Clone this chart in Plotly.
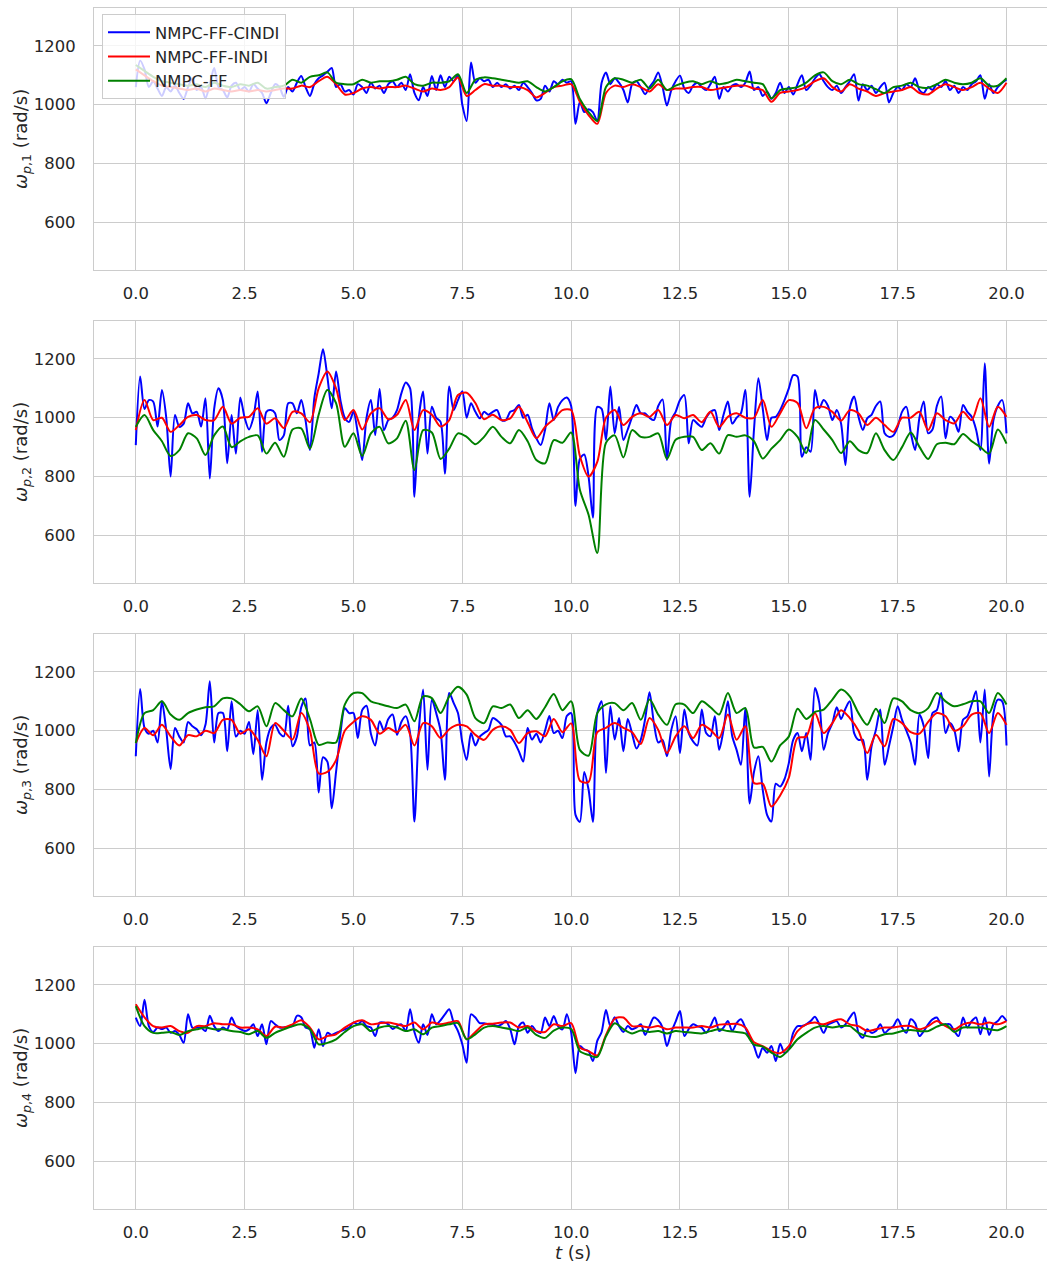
import numpy as np
import plotly.graph_objects as go

# Time grids: the CINDI signal is sampled every 0.1 s, the others every 0.2 s
t_fine = np.round(np.arange(201) * 0.1, 1)
t_coarse = np.round(np.arange(101) * 0.2, 1)

# ---------------- rotor 1 ----------------
w1_cindi = [
    1060, 1150, 1120, 1060, 1080, 1055, 1030, 1060, 1045, 1065, 1040,
    1020, 1060, 1090, 1050, 1060, 1022, 1070, 1125, 1060, 1050,
    1025, 1065, 1075, 1050, 1060, 1045, 1070, 1055, 1040, 1005,
    1040, 1070, 1060, 1027, 1060, 1045, 1075, 1098, 1060, 1030,
    1070, 1090, 1100, 1112, 1125, 1060, 1070, 1045, 1050, 1035,
    1070, 1060, 1040, 1075, 1055, 1065, 1040, 1070, 1080, 1060,
    1075, 1050, 1104, 1040, 1015, 1060, 1030, 1098, 1050, 1100,
    1060, 1095, 1080, 1100, 1000, 945, 1144, 1075, 1090, 1080,
    1085, 1060, 1075, 1060, 1070, 1055, 1065, 1050, 1075, 1060,
    1040, 1015, 1020, 1065, 1045, 1080, 1070, 1085, 1075, 1080,
    935, 1010, 975, 985, 975, 945, 1075, 1110, 1070, 1090,
    1075, 1050, 1008, 1070, 1080, 1060, 1036, 1060, 1080, 1110,
    1060, 997, 1050, 1080, 1099, 1055, 1040, 1065, 1075, 1060,
    1050, 1070, 1095, 1020, 1060, 1045, 1065, 1070, 1060, 1075,
    1113, 1050, 1060, 1030, 1045, 1020, 1040, 1075, 1040, 1060,
    1035, 1070, 1100, 1050, 1065, 1090, 1104, 1080, 1060, 1050,
    1065, 1040, 1060, 1080, 1104, 1014, 1070, 1050, 1065, 1040,
    1060, 1075, 1008, 1040, 1060, 1050, 1070, 1060, 1090, 1050,
    1040, 1060, 1050, 1070, 1060, 1080, 1050, 1065, 1040, 1060,
    1050, 1070, 1080, 1100, 1020, 1070, 1040, 1060, 1075, 1085,
]
w1_indi = [
    1120, 1100, 1080, 1065, 1060, 1055, 1050, 1055, 1045, 1055,
    1050, 1045, 1050, 1045, 1050, 1045, 1050, 1055, 1055, 1065,
    1060, 1080, 1095, 1070, 1035, 1040, 1055, 1060, 1055, 1060,
    1060, 1065, 1055, 1045, 1055, 1050, 1060, 1093, 1030, 1050,
    1070, 1065, 1065, 1060, 1060, 1050, 1025, 1040, 1060, 1065,
    1070, 1010, 965, 935, 1040, 1065, 1060, 1070, 1060, 1045,
    1070, 1050, 1055, 1055, 1060, 1060, 1050, 1055, 1060, 1065,
    1065, 1055, 1050, 1010, 1040, 1045, 1050, 1060, 1080, 1090,
    1060, 1045, 1070, 1055, 1045, 1030, 1040, 1045, 1050, 1060,
    1040, 1035, 1055, 1070, 1060, 1050, 1060, 1075, 1055, 1040,
    1075,
]
w1_ff = [
    1135, 1115, 1095, 1080, 1075, 1070, 1065, 1070, 1060, 1075,
    1065, 1060, 1070, 1065, 1075, 1055, 1060, 1065, 1085, 1075,
    1095, 1100, 1110, 1075, 1070, 1070, 1085, 1075, 1080, 1080,
    1085, 1095, 1070, 1065, 1075, 1075, 1080, 1104, 1040, 1085,
    1093, 1090, 1085, 1080, 1075, 1080, 1060, 1045, 1060, 1080,
    1087, 1020, 975, 945, 1060, 1090, 1085, 1075, 1085, 1055,
    1085, 1050, 1065, 1075, 1080, 1070, 1080, 1070, 1075, 1085,
    1080, 1075, 1070, 1022, 1050, 1055, 1060, 1075, 1100, 1110,
    1080, 1070, 1085, 1070, 1065, 1053, 1040, 1060, 1065, 1075,
    1060, 1058, 1070, 1085, 1075, 1070, 1075, 1090, 1065, 1065,
    1090,
]

# ---------------- rotor 2 ----------------
w2_cindi = [
    907, 1140, 1030, 1060, 1055, 970, 1094, 1000, 800, 1009, 969,
    980, 1049, 1015, 1020, 970, 1066, 793, 1030, 1100, 1060,
    845, 1009, 878, 1069, 1000, 960, 1000, 1089, 884, 1020,
    1026, 1015, 924, 940, 1049, 1049, 1015, 1060, 990, 890,
    1066, 1150, 1233, 1140, 1032, 1157, 1060, 1000, 986, 1020,
    947, 856, 1000, 1060, 941, 1098, 958, 992, 1000, 1026,
    1083, 1120, 1100, 731, 1000, 1089, 878, 1037, 1000, 986,
    810, 1106, 1026, 1060, 1090, 1000, 1049, 1020, 998, 1020,
    1010, 1020, 1026, 992, 992, 1020, 1026, 1043, 1000, 1010,
    964, 930, 907, 958, 1049, 992, 1037, 1060, 1069, 1040,
    700, 860, 875, 800, 660, 1037, 1030, 924, 1106, 947,
    1037, 924, 960, 1003, 1043, 1015, 1015, 1000, 992, 1040,
    1062, 856, 992, 1020, 1060, 1077, 913, 992, 980, 969,
    1000, 1020, 1026, 958, 1010, 1055, 980, 1000, 1015, 1094,
    731, 960, 1134, 1032, 924, 1000, 1003, 1026, 1060, 1100,
    1145, 1140, 867, 900, 884, 1094, 1032, 1060, 1040, 992,
    1026, 980, 839, 1032, 1072, 1003, 958, 998, 1010, 1040,
    1055, 947, 935, 940, 969, 1020, 1037, 950, 890, 1000,
    1055, 947, 960, 1040, 1072, 930, 1003, 990, 952, 1043,
    1020, 1003, 960, 890, 1185, 844, 992, 1040, 1060, 947,
]
w2_indi = [
    958, 1060, 992, 1000, 952, 975, 1003, 1009, 992, 992,
    1037, 980, 1000, 1003, 1032, 980, 998, 965, 1020, 1015,
    985, 1100, 1157, 1100, 992, 1026, 960, 1015, 1032, 995,
    1010, 1060, 958, 1026, 1010, 970, 992, 1077, 1085, 1050,
    995, 1010, 992, 998, 1037, 985, 930, 969, 995, 1026,
    1026, 870, 800, 850, 1000, 1026, 975, 1003, 1015, 1003,
    1026, 975, 1009, 998, 1009, 985, 1020, 969, 1003, 1015,
    1000, 1000, 1060, 969, 1015, 1060, 1050, 964, 1032, 1037,
    1020, 990, 1026, 1015, 975, 1000, 975, 952, 1000, 1000,
    1020, 958, 1015, 992, 981, 1020, 992, 1066, 969, 1037,
    1003,
]
w2_ff = [
    969, 1009, 958, 920, 870, 890, 947, 930, 873, 940,
    970, 900, 920, 935, 940, 878, 915, 867, 960, 964,
    895, 1010, 1094, 1050, 901, 947, 870, 947, 969, 913,
    930, 990, 822, 958, 950, 860, 895, 947, 935, 910,
    935, 969, 935, 913, 958, 920, 856, 845, 924, 915,
    950, 755, 670, 540, 915, 940, 865, 958, 935, 935,
    947, 860, 925, 935, 935, 890, 913, 878, 941, 935,
    940, 920, 861, 895, 924, 960, 935, 880, 992, 960,
    924, 880, 920, 890, 880, 947, 890, 856, 900, 950,
    901, 860, 910, 915, 910, 945, 920, 900, 878, 960,
    912,
]

# ---------------- rotor 3 ----------------
w3_cindi = [
    913, 1142, 1010, 990, 1000, 960, 1100, 1000, 870, 1009, 980,
    960, 1030, 1015, 1005, 985, 1020, 1168, 960, 1060, 1060,
    930, 1100, 980, 1000, 990, 1030, 920, 1070, 833, 960,
    1010, 1020, 992, 981, 1085, 947, 980, 1080, 1110, 950,
    960, 790, 910, 895, 736, 860, 990, 1077, 1060, 1060,
    975, 1070, 1085, 990, 950, 1032, 1000, 1040, 1055, 986,
    1030, 1049, 992, 691, 1000, 1140, 867, 1106, 1060, 1000,
    833, 1128, 1095, 1060, 960, 901, 992, 950, 980, 992,
    1003, 1043, 1035, 1020, 981, 981, 960, 930, 895, 1009,
    970, 990, 960, 1000, 1050, 992, 1000, 975, 1050, 1060,
    714, 690, 860, 800, 690, 1060, 1100, 856, 1083, 970,
    1043, 930, 1040, 990, 940, 970, 1040, 1131, 1026, 960,
    969, 913, 1003, 1049, 924, 1072, 992, 964, 950, 1072,
    992, 981, 1049, 935, 1003, 1100, 981, 935, 884, 1077,
    753, 860, 913, 800, 714, 691, 820, 810, 835, 890,
    969, 992, 930, 992, 901, 1145, 1094, 935, 992, 1026,
    1080, 1040, 1075, 1100, 992, 969, 969, 833, 947, 1003,
    1072, 884, 947, 1015, 1083, 1037, 1000, 960, 884, 1055,
    1015, 907, 1060, 1070, 1128, 992, 1026, 1003, 930, 1037,
    1049, 1090, 1134, 960, 1140, 844, 1060, 1106, 1100, 950,
]
w3_indi = [
    958, 1009, 985, 1020, 981, 950, 985, 981, 1000, 992,
    1037, 1037, 990, 1005, 969, 913, 1026, 1000, 970, 1060,
    1000, 855, 860, 900, 1000, 1030, 1049, 1037, 990, 1009,
    995, 1020, 950, 1026, 1015, 975, 1005, 1020, 1015, 986,
    969, 1003, 1015, 1003, 958, 992, 998, 981, 1040, 995,
    1025, 830, 826, 995, 1010, 1026, 1010, 995, 955, 1043,
    1003, 924, 981, 1015, 975, 1020, 1003, 975, 1055, 969,
    1015, 822, 820, 742, 780, 840, 975, 980, 1060, 992,
    1026, 1070, 1043, 1000, 924, 986, 947, 1040, 1026, 995,
    990, 1030, 1060, 1049, 1000, 1015, 1055, 1060, 992, 1060,
    1020,
]
w3_ff = [
    958, 1060, 1070, 1100, 1055, 1037, 1060, 1072, 1080, 1083,
    1110, 1110, 1090, 1066, 1083, 1015, 1094, 1070, 1049, 1110,
    1040, 952, 960, 960, 1089, 1128, 1128, 1100, 1091, 1083,
    1077, 1089, 1032, 1117, 1111, 1060, 1117, 1150, 1123, 1043,
    1026, 1083, 1077, 1089, 1043, 1070, 1040, 1080, 1125, 1070,
    1100, 935, 915, 1060, 1090, 1094, 1070, 1094, 1037, 1106,
    1055, 1020, 1090, 1089, 1060, 1100, 1080, 1055, 1128, 1060,
    1077, 943, 945, 895, 950, 980, 1075, 1040, 1064, 1072,
    1106, 1140, 1117, 1060, 1020, 1075, 1026, 1110, 1100, 1070,
    1060, 1077, 1128, 1100, 1083, 1090, 1100, 1100, 1060, 1128,
    1089,
]

# ---------------- rotor 4 ----------------
w4_cindi = [
    1089, 1060, 1150, 1060, 1040, 1055, 1050, 1055, 1037, 1043, 1030,
    1003, 1100, 1055, 1055, 1055, 1043, 1095, 1060, 1043, 1055,
    1049, 1089, 1060, 1050, 1043, 1049, 1066, 1026, 1066, 998,
    1077, 1066, 1055, 1055, 1058, 1060, 1095, 1090, 1055, 1049,
    986, 1049, 992, 1037, 1030, 1037, 1043, 1049, 1055, 1072,
    1066, 1077, 1060, 1055, 1026, 1072, 1072, 1066, 1050, 1060,
    1066, 1043, 1117, 1040, 1003, 1066, 1030, 1100, 1066, 1080,
    1100, 1117, 1072, 1043, 998, 935, 1100, 1089, 1070, 1070,
    1066, 1066, 1060, 1066, 1077, 1050, 998, 1060, 1072, 1037,
    1060, 1043, 1037, 1089, 1060, 1094, 1060, 1049, 1100, 1040,
    900, 992, 981, 975, 941, 1010, 1040, 1115, 1060, 1090,
    1060, 1040, 1060, 1049, 1055, 1066, 1030, 1060, 1089, 1080,
    1055, 992, 1040, 1075, 1111, 1026, 1050, 1066, 1060, 1055,
    1037, 1060, 1089, 1043, 1055, 1077, 1043, 1070, 1083, 1055,
    1020, 992, 952, 986, 969, 992, 941, 1000, 969, 981,
    1037, 1060, 1060, 1066, 1077, 1092, 1066, 1037, 1066, 1072,
    1077, 1055, 1066, 1089, 1106, 1037, 1020, 1049, 1037, 1043,
    1066, 1037, 1049, 1060, 1083, 1055, 1037, 1083, 1070, 1026,
    1043, 1066, 1083, 1089, 1066, 1066, 1066, 1043, 1026, 1089,
    1055, 1077, 1089, 1032, 1089, 1030, 1066, 1077, 1094, 1077,
]
w4_indi = [
    1134, 1090, 1060, 1055, 1060, 1043, 1037, 1060, 1060, 1070,
    1066, 1066, 1055, 1055, 1049, 1026, 1058, 1055, 1066, 1080,
    1055, 1015, 1026, 1032, 1055, 1072, 1080, 1066, 1070, 1072,
    1066, 1060, 1072, 1049, 1072, 1066, 1072, 1077, 1015, 1040,
    1066, 1068, 1072, 1072, 1055, 1060, 1043, 1040, 1066, 1060,
    1070, 987, 975, 960, 1030, 1085, 1089, 1060, 1060, 1055,
    1060, 1049, 1055, 1055, 1055, 1060, 1055, 1065, 1066, 1068,
    1055, 1005, 992, 975, 968, 992, 1043, 1066, 1072, 1066,
    1077, 1083, 1066, 1060, 1043, 1049, 1055, 1055, 1060, 1060,
    1049, 1060, 1077, 1060, 1049, 1066, 1072, 1066, 1072, 1066,
    1077,
]
w4_ff = [
    1128, 1060, 1037, 1037, 1040, 1030, 1043, 1049, 1055, 1049,
    1049, 1043, 1040, 1032, 1043, 1020, 1037, 1049, 1060, 1066,
    1049, 998, 1003, 1015, 1040, 1060, 1066, 1043, 1055, 1060,
    1055, 1043, 1049, 1032, 1055, 1060, 1066, 1070, 1015, 1032,
    1055, 1060, 1055, 1050, 1043, 1055, 1030, 1020, 1045, 1055,
    1050, 975, 962, 955, 1025, 1070, 1050, 1035, 1045, 1040,
    1043, 1035, 1043, 1040, 1037, 1035, 1043, 1049, 1043, 1040,
    1035, 997, 990, 970, 955, 980, 1015, 1037, 1055, 1060,
    1055, 1060, 1060, 1037, 1026, 1023, 1032, 1035, 1043, 1047,
    1043, 1043, 1058, 1066, 1040, 1055, 1055, 1055, 1049, 1046,
    1060,
]

panels = [
    (w1_cindi, w1_indi, w1_ff, "1"),
    (w2_cindi, w2_indi, w2_ff, "2"),
    (w3_cindi, w3_indi, w3_ff, "3"),
    (w4_cindi, w4_indi, w4_ff, "4"),
]
series_names = ["NMPC-FF-CINDI", "NMPC-FF-INDI", "NMPC-FF"]
series_colors = ["#0000ff", "#ff0000", "#008000"]

x_ticks = [0, 2.5, 5, 7.5, 10, 12.5, 15, 17.5, 20]
y_ticks = [600, 800, 1000, 1200]

W, H = 1047, 1265
LEFT = 94
# pixel extents (top, bottom) of the four panels
panel_px = [(7.7, 270.3), (320.7, 583.3), (633.7, 896.3), (946.7, 1209.3)]

FONT = "DejaVu Sans"
TXT = "#262626"
GRID = "#cccccc"
TICK_SIZE = 16.4
LABEL_SIZE = 18

fig = go.Figure()
layout = dict(
    width=W, height=H,
    margin=dict(l=LEFT, r=0, t=0, b=0),
    paper_bgcolor="white", plot_bgcolor="white",
    font=dict(family=FONT, size=TICK_SIZE, color=TXT),
    showlegend=True,
    legend=dict(
        x=(102 - LEFT) / (W - LEFT), y=1 - 14 / H,
        xanchor="left", yanchor="top",
        bgcolor="rgba(255,255,255,0.8)",
        bordercolor=GRID, borderwidth=1,
        font=dict(family=FONT, size=TICK_SIZE, color=TXT),
        itemwidth=42, tracegroupgap=0,
    ),
)

annotations = []
for i, (cindi, indi, ff, idx) in enumerate(panels):
    n = i + 1
    xa = "x" if n == 1 else f"x{n}"
    ya = "y" if n == 1 else f"y{n}"
    for vals, tt, name, col in zip((cindi, indi, ff), (t_fine, t_coarse, t_coarse),
                                   series_names, series_colors):
        fig.add_trace(go.Scatter(
            x=tt, y=vals, mode="lines", name=name,
            line=dict(color=col, width=2, shape="spline", smoothing=0.8),
            xaxis=xa, yaxis=ya, showlegend=(n == 1),
            legendgroup=name,
        ))
    top, bot = panel_px[i]
    dom = [1 - bot / H, 1 - top / H]
    layout["xaxis" if n == 1 else f"xaxis{n}"] = dict(
        domain=[0, 1], anchor=ya, range=[-0.96, 20.93],
        tickvals=x_ticks, tickformat=".1f",
        showgrid=True, gridcolor=GRID, gridwidth=1,
        showline=True, mirror=True, linecolor=GRID, linewidth=1.3,
        zeroline=False, ticks="", ticklabelstandoff=8,
        tickfont=dict(family=FONT, size=TICK_SIZE, color=TXT),
    )
    layout["yaxis" if n == 1 else f"yaxis{n}"] = dict(
        domain=dom, anchor=xa, range=[437, 1330],
        tickvals=y_ticks,
        showgrid=True, gridcolor=GRID, gridwidth=1,
        showline=True, mirror=True, linecolor=GRID, linewidth=1.3,
        zeroline=False, ticks="", ticklabelstandoff=14,
        tickfont=dict(family=FONT, size=TICK_SIZE, color=TXT),
    )
    annotations.append(dict(
        text=f"<i>ω</i><sub><i>p</i>,{idx}</sub> (rad/s)",
        xref="paper", yref="paper",
        x=(22 - LEFT) / (W - LEFT), y=1 - (top + bot) / 2 / H,
        xanchor="center", yanchor="middle", textangle=-90,
        showarrow=False, font=dict(family=FONT, size=LABEL_SIZE, color=TXT),
    ))

annotations.append(dict(
    text="<i>t</i> (s)", xref="paper", yref="paper",
    x=(573 - LEFT) / (W - LEFT), y=1 - 1252 / H,
    xanchor="center", yanchor="middle", showarrow=False,
    font=dict(family=FONT, size=LABEL_SIZE, color=TXT),
))
layout["annotations"] = annotations
fig.update_layout(**layout)

fig.write_html("out.html")
